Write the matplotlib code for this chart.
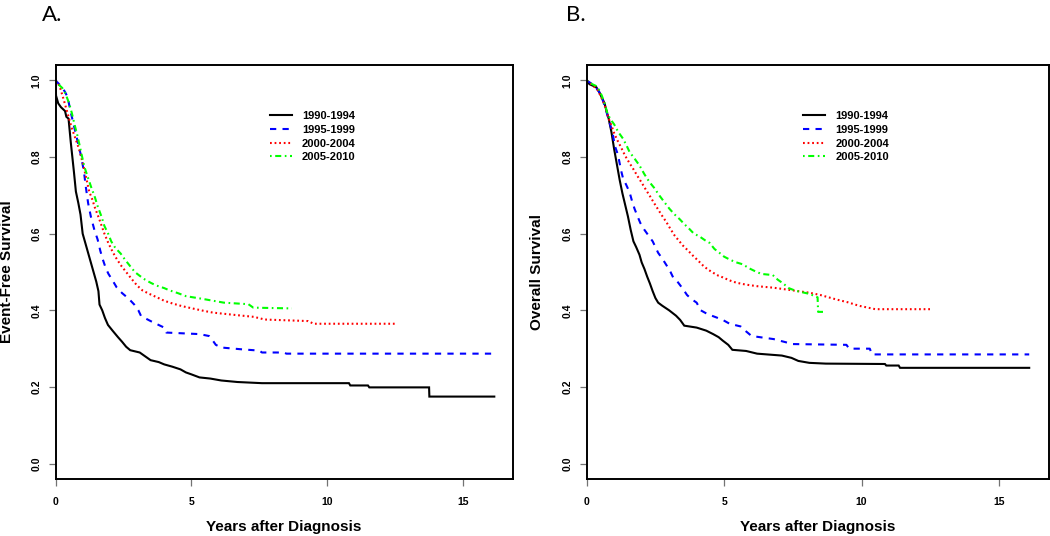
import matplotlib
matplotlib.use("Agg")
import matplotlib.pyplot as plt

# ---------------- data (vertices of the survival curves) ----------------
series_labels = ["1990-1994", "1995-1999", "2000-2004", "2005-2010"]
series_colors = ["#000000", "#0000FF", "#FF0000", "#00FF00"]

# Panel A: Event-Free Survival
efs_t_1990 = [0, 0.02, 0.1, 0.2, 0.35, 0.4, 0.48, 0.56, 0.62, 0.68, 0.75, 0.84, 0.92, 1.0, 1.1,
              1.2, 1.3, 1.4, 1.5, 1.58, 1.62, 1.72, 1.82, 1.93, 2.1, 2.3, 2.45, 2.6, 2.75, 3.1,
              3.3, 3.5, 3.8, 4.0, 4.3, 4.6, 4.8, 5.0, 5.3, 5.7, 6.1, 6.7, 7.6, 10.8, 10.85, 11.5,
              11.55, 13.75, 13.76, 16.15]
efs_s_1990 = [1.0, 0.96, 0.94, 0.93, 0.92, 0.905, 0.9, 0.84, 0.80, 0.76, 0.71, 0.68, 0.65, 0.60, 0.575,
              0.55, 0.525, 0.50, 0.475, 0.45, 0.415, 0.40, 0.38, 0.362, 0.347, 0.33, 0.318, 0.305, 0.296, 0.29,
              0.28, 0.27, 0.265, 0.259, 0.253, 0.246, 0.238, 0.233, 0.225, 0.222, 0.217, 0.213, 0.21, 0.21, 0.204, 0.204,
              0.199, 0.199, 0.175, 0.175]

efs_t_1995 = [0, 0.2, 0.35, 0.45, 0.55, 0.65, 0.75, 0.85, 0.95, 1.05, 1.12, 1.2, 1.3, 1.43, 1.55, 1.65,
              1.74, 1.85, 1.95, 2.1, 2.25, 2.45, 2.7, 2.9, 3.05, 3.15, 3.5, 3.85, 4.0, 4.08, 5.3, 5.65,
              5.8, 5.9, 6.1, 6.9, 7.5, 7.6, 8.4, 8.5, 16.15]
efs_s_1995 = [1.0, 0.985, 0.97, 0.955, 0.92, 0.89, 0.86, 0.83, 0.80, 0.76, 0.72, 0.68, 0.645, 0.61, 0.585, 0.555,
              0.533, 0.51, 0.495, 0.478, 0.46, 0.445, 0.43, 0.415, 0.40, 0.385, 0.372, 0.36, 0.355, 0.342, 0.338, 0.333,
              0.32, 0.31, 0.303, 0.298, 0.295, 0.29, 0.29, 0.287, 0.287]

efs_t_2000 = [0, 0.15, 0.3, 0.44, 0.6, 0.75, 0.87, 1.0, 1.1, 1.24, 1.35, 1.45, 1.6, 1.7, 1.8, 1.93,
              2.05, 2.2, 2.4, 2.6, 2.8, 3.0, 3.2, 3.45, 3.7, 4.0, 4.3, 4.65, 5.1, 5.5, 5.8, 6.6,
              7.3, 7.7, 9.3, 9.5, 12.56]
efs_s_2000 = [1.0, 0.985, 0.95, 0.915, 0.875, 0.845, 0.82, 0.785, 0.755, 0.71, 0.69, 0.668, 0.64, 0.62, 0.60, 0.578,
              0.56, 0.54, 0.518, 0.50, 0.482, 0.465, 0.452, 0.443, 0.435, 0.425, 0.418, 0.411, 0.404, 0.398, 0.394, 0.388,
              0.383, 0.376, 0.372, 0.365, 0.365]

efs_t_2005 = [0, 0.1, 0.25, 0.37, 0.5, 0.6, 0.7, 0.81, 0.95, 1.06, 1.2, 1.31, 1.45, 1.55, 1.7, 1.8,
              1.95, 2.05, 2.2, 2.4, 2.55, 2.75, 2.92, 3.1, 3.3, 3.5, 3.7, 4.0, 4.2, 4.5, 4.8, 5.4,
              5.8, 6.2, 7.1, 7.28, 8.7]
efs_s_2005 = [1.0, 0.99, 0.98, 0.965, 0.94, 0.915, 0.885, 0.855, 0.81, 0.775, 0.745, 0.722, 0.695, 0.672, 0.643, 0.62,
              0.598, 0.58, 0.563, 0.548, 0.533, 0.515, 0.50, 0.49, 0.48, 0.472, 0.465, 0.458, 0.452, 0.445, 0.437, 0.43,
              0.425, 0.42, 0.416, 0.407, 0.405]

# Panel B: Overall Survival
os_t_1990 = [0, 0.1, 0.35, 0.45, 0.55, 0.65, 0.72, 0.8, 0.9, 1.0, 1.1, 1.2, 1.3, 1.4, 1.5, 1.6,
             1.7, 1.8, 1.92, 2.0, 2.1, 2.2, 2.3, 2.4, 2.5, 2.6, 2.75, 3.0, 3.25, 3.4, 3.55, 4.0,
             4.35, 4.6, 4.8, 4.95, 5.15, 5.3, 5.8, 6.2, 7.1, 7.45, 7.7, 8.1, 8.7, 10.85, 10.9, 11.35,
             11.4, 16.1]
os_s_1990 = [1.0, 0.99, 0.982, 0.97, 0.955, 0.94, 0.92, 0.90, 0.865, 0.82, 0.78, 0.74, 0.705, 0.675, 0.645, 0.61,
             0.58, 0.565, 0.545, 0.525, 0.508, 0.488, 0.47, 0.45, 0.432, 0.42, 0.412, 0.40, 0.386, 0.375, 0.36, 0.355,
             0.347, 0.338, 0.33, 0.321, 0.31, 0.297, 0.294, 0.287, 0.282, 0.276, 0.268, 0.263, 0.261, 0.26, 0.256, 0.256,
             0.25, 0.25]

os_t_1995 = [0, 0.3, 0.5, 0.65, 0.75, 0.85, 0.95, 1.02, 1.14, 1.25, 1.32, 1.44, 1.56, 1.65, 1.74, 1.85,
             1.95, 2.1, 2.25, 2.4, 2.5, 2.6, 2.75, 2.9, 3.05, 3.15, 3.3, 3.5, 3.65, 3.8, 4.0, 4.15,
             4.4, 4.7, 4.95, 5.2, 5.6, 5.8, 6.0, 6.8, 7.5, 9.45, 9.55, 10.3, 10.38, 16.1]
os_s_1995 = [1.0, 0.985, 0.965, 0.935, 0.91, 0.885, 0.86, 0.83, 0.805, 0.765, 0.745, 0.727, 0.708, 0.685, 0.665, 0.645,
             0.628, 0.61, 0.595, 0.58, 0.565, 0.55, 0.535, 0.518, 0.50, 0.485, 0.475, 0.456, 0.44, 0.43, 0.42, 0.40,
             0.39, 0.382, 0.375, 0.365, 0.358, 0.345, 0.333, 0.325, 0.312, 0.31, 0.30, 0.30, 0.285, 0.285]

os_t_2000 = [0, 0.2, 0.4, 0.5, 0.6, 0.7, 0.8, 0.9, 1.0, 1.1, 1.25, 1.4, 1.55, 1.7, 1.85, 2.0,
             2.15, 2.3, 2.45, 2.6, 2.75, 2.9, 3.05, 3.2, 3.35, 3.5, 3.7, 3.86, 4.05, 4.23, 4.4, 4.6,
             4.8, 4.95, 5.2, 5.45, 5.8, 6.2, 6.8, 7.4, 7.8, 8.1, 8.5, 8.8, 9.1, 9.5, 9.9, 10.5, 12.58]
os_s_2000 = [1.0, 0.988, 0.975, 0.96, 0.945, 0.925, 0.90, 0.882, 0.862, 0.846, 0.825, 0.803, 0.785, 0.768, 0.75, 0.733,
             0.715, 0.698, 0.68, 0.663, 0.646, 0.63, 0.612, 0.595, 0.582, 0.569, 0.555, 0.543, 0.53, 0.517, 0.507, 0.498,
             0.49, 0.486, 0.478, 0.472, 0.467, 0.463, 0.459, 0.453, 0.449, 0.446, 0.44, 0.434, 0.428, 0.421, 0.412, 0.403, 0.403]

os_t_2005 = [0, 0.2, 0.35, 0.45, 0.55, 0.65, 0.75, 0.85, 1.0, 1.15, 1.32, 1.45, 1.56, 1.75, 1.92, 2.1,
             2.29, 2.45, 2.65, 2.85, 3.01, 3.2, 3.38, 3.55, 3.74, 3.9, 4.1, 4.3, 4.47, 4.65, 4.83, 5.0,
             5.19, 5.4, 5.68, 5.9, 6.1, 6.35, 6.77, 6.95, 7.15, 7.35, 7.6, 8.1, 8.4, 8.42, 8.65]
os_s_2005 = [1.0, 0.99, 0.985, 0.975, 0.96, 0.94, 0.915, 0.90, 0.885, 0.865, 0.848, 0.83, 0.813, 0.795, 0.778, 0.755,
             0.734, 0.72, 0.699, 0.68, 0.665, 0.65, 0.638, 0.625, 0.612, 0.60, 0.593, 0.583, 0.576, 0.56, 0.55, 0.54,
             0.533, 0.526, 0.52, 0.51, 0.503, 0.495, 0.492, 0.48, 0.47, 0.458, 0.451, 0.443, 0.434, 0.396, 0.396]

x_ticks = [0, 5, 10, 15]
y_ticks = [0.0, 0.2, 0.4, 0.6, 0.8, 1.0]
y_tick_labels = ["0.0", "0.2", "0.4", "0.6", "0.8", "1.0"]
x_label = "Years after Diagnosis"
y_labels = ["Event-Free Survival", "Overall Survival"]
panel_titles = ["A.", "B."]

# ---------------- styling ----------------
plt.rcParams["font.family"] = ["Liberation Sans", "DejaVu Sans"]
LW = 1.5
styles = [
    dict(linestyle="-"),
    dict(linestyle=(0, (3.0, 3.0))),
    dict(linestyle=(0, (0.85, 1.35))),
    dict(linestyle=(0, (0.8, 1.7, 2.9, 1.7))),
]

fig = plt.figure(figsize=(10.5, 5.36), dpi=100)
W, H = 1050, 536

def add_axes_px(left, right, top, bottom):
    return fig.add_axes([left / W, 1 - bottom / H, (right - left) / W, (bottom - top) / H])

axA = add_axes_px(55.5, 512.5, 65, 479)
axB = add_axes_px(586.7, 1049, 65, 479)

panels = [
    (axA, [(efs_t_1990, efs_s_1990), (efs_t_1995, efs_s_1995), (efs_t_2000, efs_s_2000), (efs_t_2005, efs_s_2005)]),
    (axB, [(os_t_1990, os_s_1990), (os_t_1995, os_s_1995), (os_t_2000, os_s_2000), (os_t_2005, os_s_2005)]),
]
legend_anchor_x = [0.469, 0.468]

for i, (ax, data) in enumerate(panels):
    for (t, s), lab, col, st in zip(data, series_labels, series_colors, styles):
        ax.plot(t, s, color=col, lw=LW, label=lab, solid_joinstyle="miter", **st)
    ax.set_xlim(0, 16.82)
    ax.set_ylim(-0.04, 1.04)
    ax.set_xticks(x_ticks)
    ax.set_xticklabels([str(v) for v in x_ticks], fontweight="bold", fontsize=7.5)
    ax.set_yticks(y_ticks)
    ax.set_yticklabels(y_tick_labels, fontweight="bold", fontsize=7.5, rotation=90, va="center")
    ax.tick_params(axis="both", direction="out", length=5, width=0.9, color="0.45")
    ax.tick_params(axis="x", pad=8)
    ax.tick_params(axis="y", pad=5)
    for sp in ax.spines.values():
        sp.set_linewidth(1.4)
        sp.set_color("black")
    ax.legend(loc="upper left", bbox_to_anchor=(legend_anchor_x[i], 0.888), frameon=False,
              borderpad=0, borderaxespad=0, handlelength=2.0, handletextpad=0.9,
              labelspacing=0.33, prop=dict(weight="bold", size=8))

# axis labels as figure text
fig.text(7 / W, 1 - 271.5 / H, y_labels[0], rotation=90, ha="center", va="center",
         fontsize=11, fontweight="bold")
fig.text(537 / W, 1 - 272 / H, y_labels[1], rotation=90, ha="center", va="center",
         fontsize=11, fontweight="bold")
fig.text(284 / W, 1 - 531 / H, x_label, ha="center", va="baseline", fontsize=11, fontweight="bold")
fig.text(818 / W, 1 - 531 / H, x_label, ha="center", va="baseline", fontsize=11, fontweight="bold")

# panel titles
fig.text(42 / W, 1 - 21 / H, panel_titles[0], ha="left", va="baseline", fontsize=16,
         family=["Lato", "DejaVu Sans"])
fig.text(566 / W, 1 - 21 / H, panel_titles[1], ha="left", va="baseline", fontsize=16,
         family=["Lato", "DejaVu Sans"])

fig.savefig("out.png", dpi=100)
